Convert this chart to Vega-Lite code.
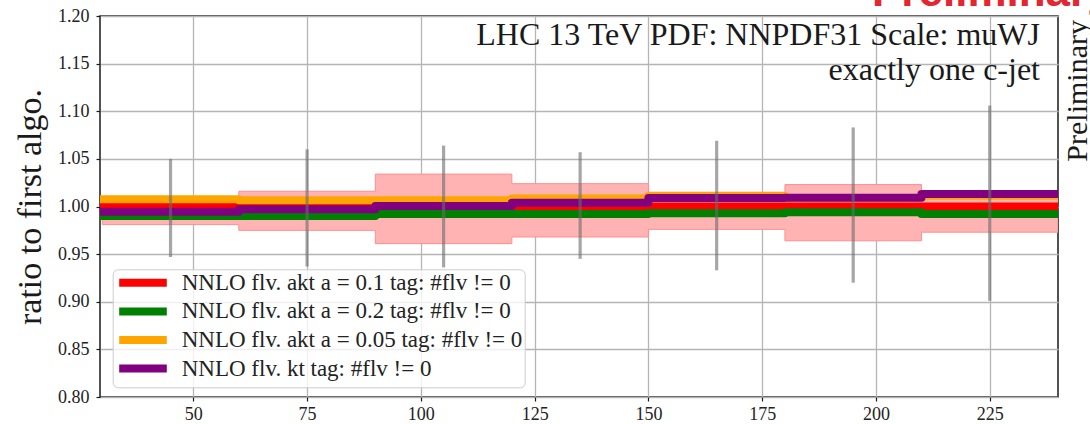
{
  "$schema": "https://vega.github.io/schema/vega-lite/v6.json",
  "width": 958,
  "height": 381,
  "autosize": {"type": "none"},
  "padding": {"left": 100, "top": 16, "right": 32, "bottom": 27},
  "background": "white",
  "config": {
    "font": "Liberation Serif",
    "view": {"stroke": "#1a1a1a", "strokeWidth": 1.5},
    "axis": {
      "grid": true,
      "gridColor": "#b5b5b5",
      "gridWidth": 1.3,
      "domain": false,
      "ticks": true,
      "tickColor": "#1a1a1a",
      "tickSize": 4,
      "tickWidth": 1.2,
      "labelFont": "Liberation Serif",
      "labelFontSize": 18,
      "labelColor": "#222222",
      "titleFont": "Liberation Serif",
      "titleFontWeight": "normal",
      "titleColor": "#1a1a1a"
    }
  },
  "datasets": {
    "curves": [
      {"series": "NNLO flv. akt a = 0.1 tag: #flv != 0", "x": 30, "ratio": 1.0},
      {"series": "NNLO flv. akt a = 0.1 tag: #flv != 0", "x": 60, "ratio": 1.0},
      {"series": "NNLO flv. akt a = 0.1 tag: #flv != 0", "x": 90, "ratio": 1.0},
      {"series": "NNLO flv. akt a = 0.1 tag: #flv != 0", "x": 120, "ratio": 1.0},
      {"series": "NNLO flv. akt a = 0.1 tag: #flv != 0", "x": 150, "ratio": 1.0},
      {"series": "NNLO flv. akt a = 0.1 tag: #flv != 0", "x": 180, "ratio": 1.0},
      {"series": "NNLO flv. akt a = 0.1 tag: #flv != 0", "x": 210, "ratio": 1.0},
      {"series": "NNLO flv. akt a = 0.1 tag: #flv != 0", "x": 240, "ratio": 1.0},
      {"series": "NNLO flv. akt a = 0.2 tag: #flv != 0", "x": 30, "ratio": 0.990},
      {"series": "NNLO flv. akt a = 0.2 tag: #flv != 0", "x": 60, "ratio": 0.990},
      {"series": "NNLO flv. akt a = 0.2 tag: #flv != 0", "x": 90, "ratio": 0.992},
      {"series": "NNLO flv. akt a = 0.2 tag: #flv != 0", "x": 120, "ratio": 0.992},
      {"series": "NNLO flv. akt a = 0.2 tag: #flv != 0", "x": 150, "ratio": 0.993},
      {"series": "NNLO flv. akt a = 0.2 tag: #flv != 0", "x": 180, "ratio": 0.994},
      {"series": "NNLO flv. akt a = 0.2 tag: #flv != 0", "x": 210, "ratio": 0.992},
      {"series": "NNLO flv. akt a = 0.2 tag: #flv != 0", "x": 240, "ratio": 0.992},
      {"series": "NNLO flv. akt a = 0.05 tag: #flv != 0", "x": 30, "ratio": 1.0075},
      {"series": "NNLO flv. akt a = 0.05 tag: #flv != 0", "x": 60, "ratio": 1.0065},
      {"series": "NNLO flv. akt a = 0.05 tag: #flv != 0", "x": 90, "ratio": 1.0065},
      {"series": "NNLO flv. akt a = 0.05 tag: #flv != 0", "x": 120, "ratio": 1.0085},
      {"series": "NNLO flv. akt a = 0.05 tag: #flv != 0", "x": 150, "ratio": 1.011},
      {"series": "NNLO flv. akt a = 0.05 tag: #flv != 0", "x": 180, "ratio": 1.0088},
      {"series": "NNLO flv. akt a = 0.05 tag: #flv != 0", "x": 210, "ratio": 1.0113},
      {"series": "NNLO flv. akt a = 0.05 tag: #flv != 0", "x": 240, "ratio": 1.0113},
      {"series": "NNLO flv. kt tag: #flv != 0", "x": 30, "ratio": 0.9945},
      {"series": "NNLO flv. kt tag: #flv != 0", "x": 60, "ratio": 0.997},
      {"series": "NNLO flv. kt tag: #flv != 0", "x": 90, "ratio": 1.0005},
      {"series": "NNLO flv. kt tag: #flv != 0", "x": 120, "ratio": 1.004},
      {"series": "NNLO flv. kt tag: #flv != 0", "x": 150, "ratio": 1.009},
      {"series": "NNLO flv. kt tag: #flv != 0", "x": 180, "ratio": 1.0093},
      {"series": "NNLO flv. kt tag: #flv != 0", "x": 210, "ratio": 1.013},
      {"series": "NNLO flv. kt tag: #flv != 0", "x": 240, "ratio": 1.013}
    ],
    "band": [
      {"x": 30, "lo": 0.981, "hi": 1.010},
      {"x": 60, "lo": 0.975, "hi": 1.016},
      {"x": 90, "lo": 0.961, "hi": 1.034},
      {"x": 120, "lo": 0.968, "hi": 1.024},
      {"x": 150, "lo": 0.976, "hi": 1.015},
      {"x": 180, "lo": 0.964, "hi": 1.023},
      {"x": 210, "lo": 0.973, "hi": 1.015},
      {"x": 240, "lo": 0.973, "hi": 1.015}
    ],
    "errs": [
      {"x": 45, "lo": 0.947, "hi": 1.050},
      {"x": 75, "lo": 0.937, "hi": 1.060},
      {"x": 105, "lo": 0.936, "hi": 1.064},
      {"x": 135, "lo": 0.945, "hi": 1.057},
      {"x": 165, "lo": 0.933, "hi": 1.069},
      {"x": 195, "lo": 0.920, "hi": 1.083},
      {"x": 225, "lo": 0.901, "hi": 1.106}
    ]
  },
  "layer": [
    {
      "data": {"name": "band"},
      "mark": {"type": "area", "interpolate": "step-after", "fill": "#ffb3b3", "stroke": "#ff8f8f", "strokeWidth": 1, "clip": true},
      "encoding": {
        "x": {"field": "x", "type": "quantitative", "scale": {"domain": [29.5, 240], "nice": false, "zero": false},
              "axis": {"values": [50, 75, 100, 125, 150, 175, 200, 225], "title": null, "labelPadding": 4}},
        "y": {"field": "lo", "type": "quantitative", "scale": {"domain": [0.8, 1.2], "nice": false, "zero": false},
              "axis": {"values": [0.8, 0.85, 0.9, 0.95, 1.0, 1.05, 1.1, 1.15, 1.2], "format": ".2f", "labelPadding": 7,
                       "title": "ratio to first algo.", "titleFontSize": 34, "titlePadding": 10}},
        "y2": {"field": "hi"}
      }
    },
    {
      "data": {"name": "curves"},
      "mark": {"type": "line", "interpolate": "step-after", "strokeWidth": 8, "strokeCap": "square", "strokeJoin": "round", "clip": true},
      "encoding": {
        "x": {"field": "x", "type": "quantitative"},
        "y": {"field": "ratio", "type": "quantitative"},
        "color": {
          "field": "series",
          "type": "nominal",
          "scale": {
            "domain": ["NNLO flv. akt a = 0.1 tag: #flv != 0", "NNLO flv. akt a = 0.2 tag: #flv != 0", "NNLO flv. akt a = 0.05 tag: #flv != 0", "NNLO flv. kt tag: #flv != 0"],
            "range": ["#ff0000", "#008000", "#ffa500", "#800080"]
          },
          "legend": {
            "orient": "none",
            "legendX": 12.7,
            "legendY": 253.3,
            "title": null,
            "symbolType": "M-1.4,0H8.12",
            "symbolStrokeWidth": 8,
            "symbolSize": 100,
            "labelFont": "Liberation Serif",
            "labelFontSize": 23,
            "labelColor": "#222222",
            "labelOffset": 44,
            "labelLimit": 0,
            "rowPadding": -4.4,
            "padding": 2,
            "fillColor": "rgba(255,255,255,0.8)",
            "strokeColor": "#cccccc",
            "cornerRadius": 5
          }
        }
      }
    },
    {
      "data": {"name": "errs"},
      "mark": {"type": "rule", "color": "#6a6a6a", "opacity": 0.6, "strokeWidth": 3.2},
      "encoding": {
        "x": {"field": "x", "type": "quantitative"},
        "y": {"field": "lo", "type": "quantitative"},
        "y2": {"field": "hi"}
      }
    },
    {
      "data": {"values": [{"note": "LHC 13 TeV PDF: NNPDF31 Scale: muWJ\nexactly one c-jet"}]},
      "mark": {"type": "text", "align": "right", "baseline": "alphabetic", "lineBreak": "\n", "lineHeight": 35, "font": "Liberation Serif", "fontSize": 32, "color": "#1a1a1a", "dx": -18, "dy": 29},
      "encoding": {
        "x": {"datum": 240, "type": "quantitative"},
        "y": {"datum": 1.2, "type": "quantitative"},
        "text": {"field": "note"}
      }
    },
    {
      "data": {"values": [{"note": "Preliminary"}]},
      "mark": {"type": "text", "angle": 270, "align": "right", "baseline": "alphabetic", "font": "Liberation Serif", "fontSize": 30, "color": "#1a1a1a", "dx": -4, "dy": 29},
      "encoding": {
        "x": {"datum": 240, "type": "quantitative"},
        "y": {"datum": 1.2, "type": "quantitative"},
        "text": {"field": "note"}
      }
    },
    {
      "data": {"values": [{"stamp": "Preliminary"}]},
      "mark": {"type": "text", "align": "left", "baseline": "alphabetic", "font": "Liberation Sans", "fontWeight": "bold", "fontSize": 44, "color": "#e3262f", "dx": -186, "dy": -10},
      "encoding": {
        "x": {"datum": 240, "type": "quantitative"},
        "y": {"datum": 1.2, "type": "quantitative"},
        "text": {"field": "stamp"}
      }
    }
  ]
}
